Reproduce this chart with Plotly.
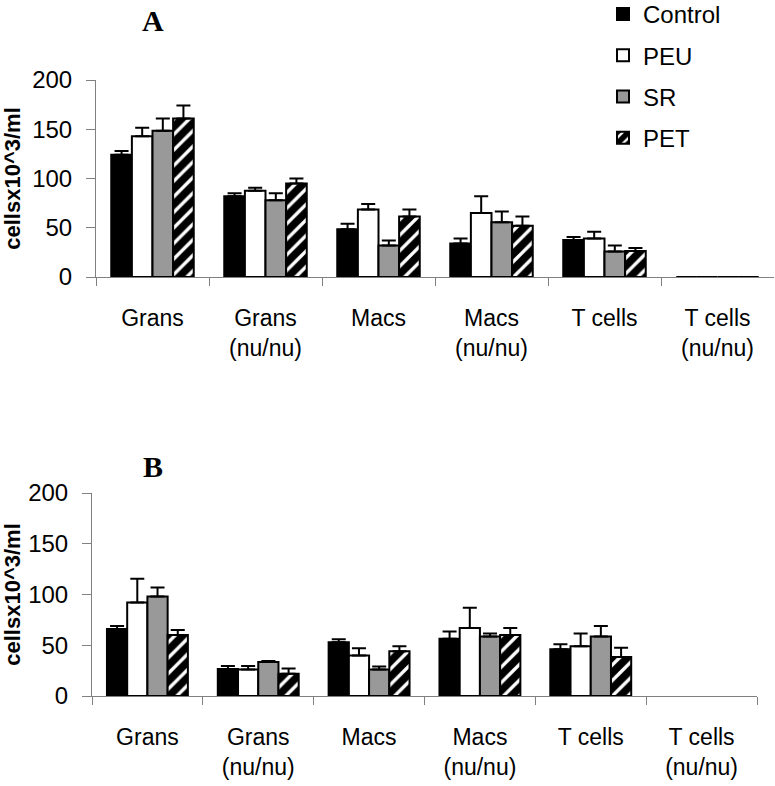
import plotly.graph_objects as go

categories = ["Grans", "Grans<br>(nu/nu)", "Macs", "Macs<br>(nu/nu)", "T cells", "T cells<br>(nu/nu)"]
series_names = ["Control", "PEU", "SR", "PET"]

# Panel A values and upper error (SE)
control_a = [124, 82, 48.5, 34, 37.5, 0]
control_a_err = [4, 3, 5.5, 5, 3, 0]
peu_a = [143, 87.5, 68.5, 65, 39, 0]
peu_a_err = [8.5, 3, 5.5, 17, 7, 0]
sr_a = [148.5, 78, 32, 55.5, 26, 0]
sr_a_err = [12.5, 7, 5, 11, 6, 0]
pet_a = [161, 95, 61.5, 52, 26.5, 0]
pet_a_err = [13, 5, 7, 9.5, 3, 0]

# Panel B values and upper error (SE)
control_b = [66, 26.5, 53, 56.5, 46, None]
control_b_err = [3, 3, 3, 7, 5, None]
peu_b = [92, 26, 40, 67, 49, None]
peu_b_err = [23.5, 3.5, 7, 20, 12.5, None]
sr_b = [98, 33.5, 26, 58.5, 58.5, None]
sr_b_err = [9, 1, 3, 3, 10.5, None]
pet_b = [60, 22, 44, 60, 38.5, None]
pet_b_err = [5, 5, 5, 7, 9, None]

y_ticks = [0, 50, 100, 150, 200]

styles = {
    "Control": dict(color="black"),
    "PEU": dict(color="white"),
    "SR": dict(color="#999999"),
    "PET": dict(color="white", pattern=dict(shape="/", fgcolor="black", bgcolor="white",
                                            fgopacity=1, size=11, solidity=0.7)),
}

panel_a = [(control_a, control_a_err), (peu_a, peu_a_err), (sr_a, sr_a_err), (pet_a, pet_a_err)]
panel_b = [(control_b, control_b_err), (peu_b, peu_b_err), (sr_b, sr_b_err), (pet_b, pet_b_err)]

fig = go.Figure()
FONT = "Liberation Sans, Arial, sans-serif"

for panel, (xa, ya) in [(panel_a, ("x", "y")), (panel_b, ("x2", "y2"))]:
    for name, (vals, errs) in zip(series_names, panel):
        fig.add_trace(go.Bar(
            x=categories, y=vals, name=name, xaxis=xa, yaxis=ya,
            showlegend=(xa == "x"), legendgroup=name,
            offsetgroup=name,
            marker=dict(line=dict(color="black", width=2), **styles[name]),
            error_y=dict(type="data", symmetric=False, array=errs,
                         arrayminus=[0 if e is not None else None for e in errs],
                         color="black", thickness=2, width=7),
        ))

W, H = 775, 786
def dom_x(a, b):
    return [a / W, b / W]
def dom_y(top, bottom):
    return [1 - bottom / H, 1 - top / H]

axis_grey = "#808080"
xcommon = dict(type="category", showline=True, linecolor=axis_grey, linewidth=1,
               ticks="outside", ticklen=8, tickcolor=axis_grey, tickson="boundaries",
               tickfont=dict(family=FONT, size=23, color="black"),
               ticklabelstandoff=20, showgrid=False, zeroline=False, automargin=False)
ycommon = dict(range=[0, 200], tickvals=y_ticks, showline=True, linecolor=axis_grey, linewidth=1,
               ticks="outside", ticklen=9, tickcolor=axis_grey,
               tickfont=dict(family=FONT, size=24, color="black"),
               ticklabelstandoff=9, showgrid=False, zeroline=False, automargin=False,
               title=dict(text="<b>cellsx10^3/ml</b>", font=dict(family=FONT, size=22, color="black"), standoff=6))

fig.update_layout(
    width=W, height=H,
    margin=dict(l=0, r=0, t=0, b=0, autoexpand=False),
    plot_bgcolor="white", paper_bgcolor="white",
    barmode="group", bargap=0.27, bargroupgap=0,
    xaxis=dict(domain=dom_x(96, 774), anchor="y", **xcommon),
    yaxis=dict(domain=dom_y(80, 277), anchor="x", **ycommon),
    xaxis2=dict(domain=dom_x(92, 757), anchor="y2", **xcommon),
    yaxis2=dict(domain=dom_y(493, 696), anchor="x2", **ycommon),
    legend=dict(x=603 / W, y=1 + 8 / H, xanchor="left", yanchor="top",
                font=dict(family=FONT, size=24, color="black"),
                tracegroupgap=7, bgcolor="rgba(0,0,0,0)"),
    annotations=[
        dict(text="<b>A</b>", x=153 / W, y=1 - 20 / H, xref="paper", yref="paper", showarrow=False,
             xanchor="center", yanchor="middle",
             font=dict(family="Liberation Serif, Times New Roman, serif", size=30, color="black")),
        dict(text="<b>B</b>", x=153 / W, y=1 - 466 / H, xref="paper", yref="paper", showarrow=False,
             xanchor="center", yanchor="middle",
             font=dict(family="Liberation Serif, Times New Roman, serif", size=30, color="black")),
    ],
)

fig.write_html("out.html", config={"displayModeBar": False},
               post_script="document.body.style.margin='0';document.body.style.overflow='hidden';")
